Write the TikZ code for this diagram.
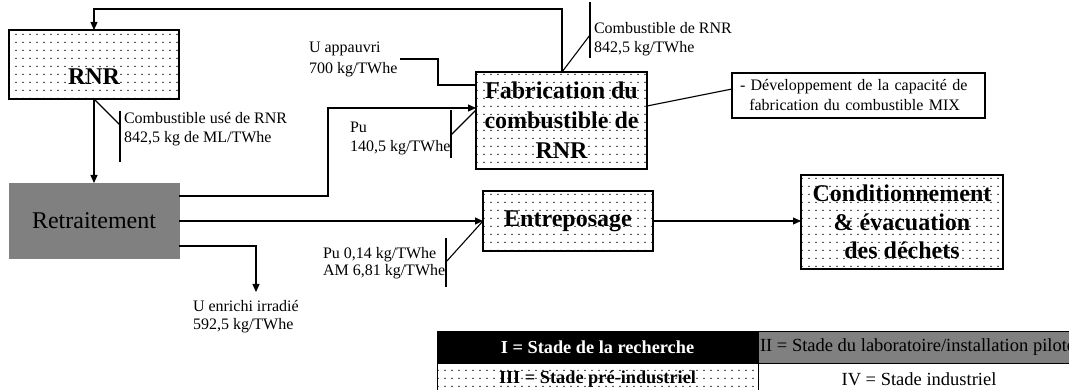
\documentclass[tikz,border=0pt]{standalone}
\usepackage{fontspec}
\setmainfont{Liberation Serif}
\usetikzlibrary{arrows.meta,patterns}

% fine dot screen used for the "pre-industrial" boxes
\pgfdeclarepatternformonly{finedots}{\pgfqpoint{0pt}{0pt}}{\pgfqpoint{6.5pt}{8pt}}{\pgfqpoint{6.5pt}{8pt}}{%
  \pgfpathcircle{\pgfqpoint{3.25pt}{4pt}}{0.85pt}\pgfusepath{fill}}

\definecolor{midgray}{RGB}{128,128,128}

\begin{document}
\begin{tikzpicture}[x=1pt,y=-1pt,
  every node/.style={inner sep=0pt,outer sep=0pt},
  wire/.style={line width=1.1pt,black},
  flow/.style={wire,-{Triangle[length=8pt,width=7pt]}},
  dotbox/.style={draw=black,line width=1.4pt,pattern=finedots,pattern color=black},
  bigbold/.style={font=\fontsize{24}{30}\selectfont\bfseries,align=center},
  note/.style={font=\fontsize{16}{19}\selectfont,align=left,anchor=west},
  legendtxt/.style={font=\fontsize{18.5}{22}\selectfont},
  legendbold/.style={font=\fontsize{18.3}{22}\selectfont\bfseries},
  cell/.style={minimum width=321pt,minimum height=32pt,line width=0.8pt},
]
\fill[white] (0,0) rectangle (1069,390);
\useasboundingbox (0,0) rectangle (1069,390);

% ---- process boxes ----
\node[dotbox,minimum width=170pt,minimum height=69pt] (rnr) at (94,64.5) {};
\node[bigbold] (rnrtxt) at (94,77) {RNR};

\node[draw=midgray,fill=midgray,minimum width=170pt,minimum height=75pt,
      font=\fontsize{24}{28}\selectfont] (retr) at (94,220.5) {Retraitement};

\node[dotbox,bigbold,minimum width=171pt,minimum height=97pt] (fab) at (561.5,120.5)
  {Fabrication du\\combustible de\\RNR};

\node[dotbox,bigbold,minimum width=170pt,minimum height=60pt] (entr) at (568,221) {Entreposage};

\node[dotbox,bigbold,font=\fontsize{24}{28.5}\selectfont\bfseries,
      minimum width=202pt,minimum height=94pt] (cond) at (902,222)
  {Conditionnement\\\& évacuation\\des déchets};

\node[draw=black,line width=1.1pt,anchor=west,minimum height=45pt,inner xsep=8pt,
      text width=237pt,align=left,font=\fontsize{16}{20}\selectfont] (dev) at (732,95.5)
  {- Développement de la capacité de\\\hspace*{9.3pt}fabrication du combustible MIX};

% ---- flows ----
\coordinate (loopTop) at (562,9);
\draw[flow] (fab.north -| loopTop) -- (loopTop) -| (rnr.north);

\draw[flow] (rnr.south) -- (retr.north);

\coordinate (puLow) at (328,196);
\coordinate (puHigh) at (328,108);
\draw[flow] (retr.east |- puLow) -- (puLow) -- (puHigh) -- (fab.west |- puHigh);

\draw[flow] (retr.east |- entr.west) -- (entr.west);

\coordinate (ueBend) at (256,246);
\coordinate (ueEnd) at (256,292);
\draw[flow] (retr.east |- ueBend) -- (ueBend) -- (ueEnd);

\draw[flow] (entr.east) -- (cond.west |- entr.east);

\coordinate (uaStart) at (400,59);
\coordinate (uaBend) at (438,59);
\coordinate (uaIn) at (438,85);
\draw[wire] (uaStart) -- (uaBend) -- (uaIn) -- (fab.west |- uaIn);

\draw[wire] ([yshift=14.5pt]fab.east) -- ([yshift=6.5pt]dev.west);

% ---- quantity callouts ----
\coordinate (c1) at (120,125);
\coordinate (c1top) at (120,111);
\coordinate (c1bot) at (120,162);
\draw[wire] (rnr.south) -- (c1);
\draw[wire] (c1top) -- (c1bot);
\node[note] (usedfuel) at (124,129) {Combustible usé de RNR\\842,5 kg de ML/TWhe};

\coordinate (c2) at (590,35);
\coordinate (c2top) at (590,2);
\coordinate (c2bot) at (590,58);
\draw[wire] (fab.north -| loopTop) -- (c2);
\draw[wire] (c2top) -- (c2bot);
\node[note] (newfuel) at (594,39) {Combustible de RNR\\842,5 kg/TWhe};

\node[note,font=\fontsize{16}{21}\selectfont] (depleted) at (309,59) {U appauvri\\700 kg/TWhe};

\coordinate (c3) at (451,135);
\coordinate (c3top) at (451,110);
\coordinate (c3bot) at (451,158);
\draw[wire] (c3) -- ([yshift=-2pt]fab.west |- puHigh);
\draw[wire] (c3top) -- (c3bot);
\node[note] (pu) at (350,138) {Pu\\140,5 kg/TWhe};

\coordinate (c4) at (446,262);
\coordinate (c4top) at (446,238);
\coordinate (c4bot) at (446,287);
\draw[wire] (c4) -- (entr.west);
\draw[wire] (c4top) -- (c4bot);
\node[note,font=\fontsize{16}{17.5}\selectfont] (wastes) at (323,263) {Pu 0,14 kg/TWhe\\AM 6,81 kg/TWhe};

\node[note,font=\fontsize{16}{18}\selectfont] (enriched) at (193,317) {U enrichi irradié\\592,5 kg/TWhe};

% ---- legend ----
\node[cell,fill=black,draw=black,text=white,legendbold] (stI) at (597.5,347) {I = Stade de la recherche};
\node[cell,fill=midgray,draw=black,minimum width=322pt] (stII) at (919,347) {};
\node[legendtxt,anchor=west] (stIItxt) at (760,347) {II = Stade du laboratoire/installation pilote};
\node[cell,dotbox,line width=0.8pt,legendbold] (stIII) at (597.5,379) {III = Stade pré-industriel};
\node[cell,draw=black,minimum width=322pt,legendtxt] (stIV) at (919,379) {IV = Stade industriel};
\end{tikzpicture}
\end{document}
